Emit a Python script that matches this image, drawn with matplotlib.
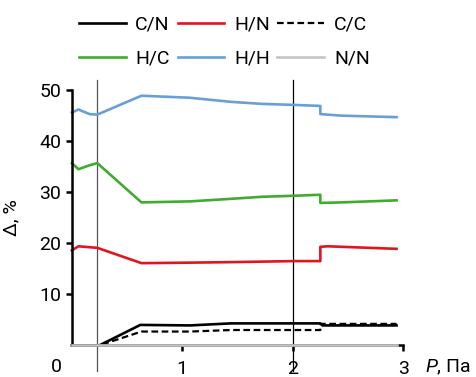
import numpy as np
import matplotlib.pyplot as plt

plt.rcParams['font.family'] = ['Roboto', 'DejaVu Sans']
plt.rcParams['mathtext.fontset'] = 'custom'
plt.rcParams['mathtext.it'] = 'Roboto:italic'

# data (P, Па vs Δ, %)
hh_x = [0, 0.06, 0.16, 0.23, 0.63, 1.07, 1.44, 1.72, 2.01, 2.25, 2.25, 2.44, 2.94]
hh_y = [45.6, 46.2, 45.3, 45.2, 48.9, 48.5, 47.7, 47.3, 47.1, 46.9, 45.3, 45.0, 44.7]

hc_x = [0, 0.06, 0.15, 0.23, 0.63, 1.07, 1.44, 1.72, 2.01, 2.25, 2.25, 2.44, 2.94]
hc_y = [35.7, 34.5, 35.2, 35.7, 28.0, 28.2, 28.7, 29.1, 29.3, 29.5, 27.9, 28.0, 28.4]

hn_x = [0, 0.06, 0.23, 0.63, 1.07, 1.44, 2.01, 2.25, 2.25, 2.32, 2.94]
hn_y = [18.6, 19.4, 19.1, 16.1, 16.2, 16.3, 16.5, 16.5, 19.3, 19.4, 18.9]

cn_x = [0, 0.25, 0.62, 1.07, 1.44, 2.25, 2.27, 2.94]
cn_y = [0, 0, 4.0, 3.9, 4.3, 4.3, 3.9, 3.9]

cc_x = [0, 0.25, 0.63, 1.07, 1.44, 2.25, 2.25, 2.94]
cc_y = [0, 0, 2.7, 2.7, 3.0, 3.0, 4.2, 4.2]

nn_x = [0, 2.94]
nn_y = [0, 0]

vlines = [0.23, 2.0]

fig = plt.figure(figsize=(4.76, 3.77), dpi=100)
ax = fig.add_axes([0.151, 0.084, 0.696, 0.677])

lw = 1.9
ax.plot(cn_x, cn_y, color='black', lw=lw, label='C/N', clip_on=False)
ax.plot(hn_x, hn_y, color='#e0161e', lw=lw, label='H/N', clip_on=False)
ax.plot(cc_x, cc_y, color='black', lw=1.6, ls=(0, (3, 1.6)), label='C/C', clip_on=False)
ax.plot(hc_x, hc_y, color='#3fac2e', lw=lw, label='H/C', clip_on=False)
ax.plot(hh_x, hh_y, color='#6a9fd6', lw=lw, label='H/H', clip_on=False)
ax.plot(nn_x, nn_y, color='#c4c4c4', lw=lw, label='N/N', clip_on=False, zorder=3)

for i, v in enumerate(vlines):
    ax.axvline(v, ymin=-0.1, ymax=1.04, clip_on=False,
               color='#555555' if i == 0 else 'black', lw=0.9, zorder=1)

ax.set_xlim(0, 3)
ax.set_ylim(0, 50)
ax.spines['top'].set_visible(False)
ax.spines['right'].set_visible(False)
ax.spines['left'].set_linewidth(1.8)
ax.spines['bottom'].set_linewidth(1.8)

ax.set_yticks([10, 20, 30, 40, 50])
ax.set_xticks([1, 2, 3])
ax.tick_params(axis='both', direction='out', length=4.5, width=1.8, labelsize=14, pad=3)
ax.tick_params(axis='x', pad=6)
ax.text(-0.14, -4.3, '0', fontsize=14, ha='center', va='center')
ax.text(3.2, -4.3, '$P$, Па', fontsize=14, ha='left', va='center')
ax.set_ylabel('Δ, %', fontsize=14, labelpad=14)

# reorder so the legend rows read C/N H/N C/C / H/C H/H N/N
h, l = ax.get_legend_handles_labels()
order = [0, 3, 1, 4, 2, 5]
ax.legend([h[i] for i in order], [l[i] for i in order], ncol=3, loc='lower center',
          bbox_to_anchor=(0.46, 1.02), frameon=False, fontsize=14,
          handlelength=2.4, columnspacing=0.4, handletextpad=0.5, labelspacing=0.8)

fig.savefig('out.png', dpi=100)
